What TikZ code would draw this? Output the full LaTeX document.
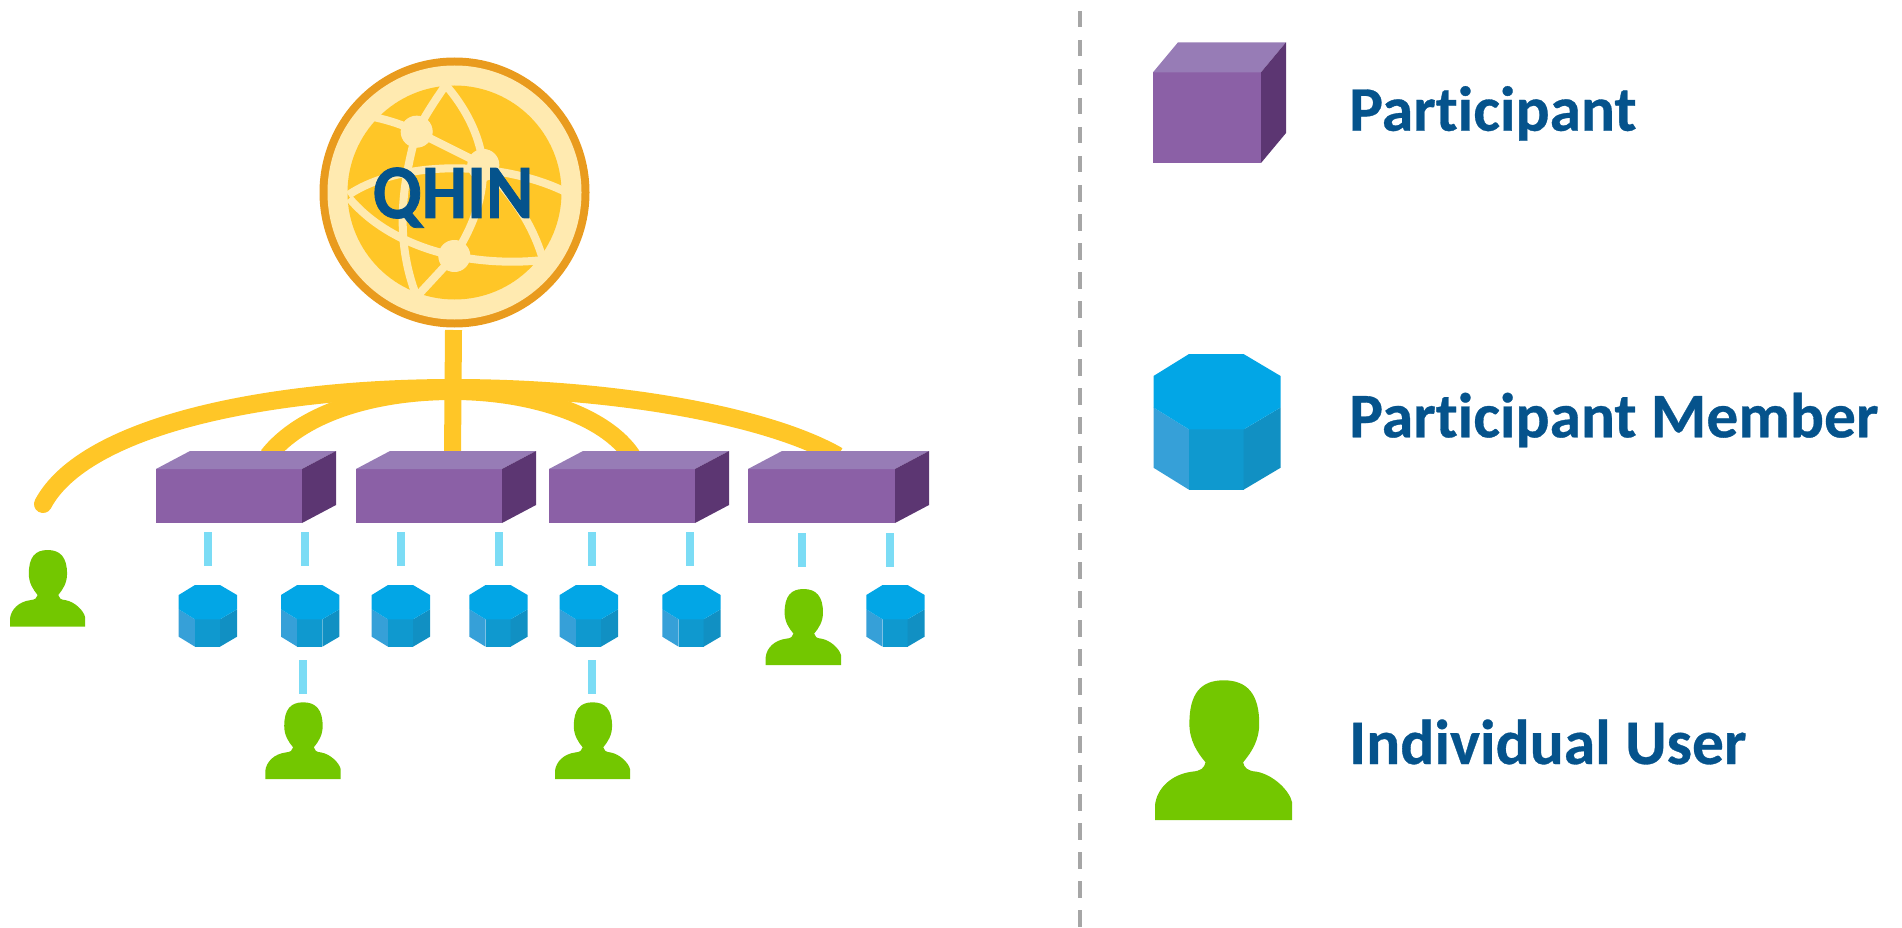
\documentclass[tikz,border=0pt]{standalone}
\usepackage{fontspec}
\setmainfont{Carlito}[Ligatures=NoCommon,BoldFeatures={FakeBold=0.5}]
\newfontfamily\qhinfont{Carlito}[Ligatures=NoCommon,BoldFeatures={FakeStretch=0.93,FakeBold=1}]
\definecolor{gold}{HTML}{FFC627}
\definecolor{ringo}{HTML}{E99B1E}
\definecolor{cream}{HTML}{FFEAB0}
\definecolor{boxfront}{HTML}{8B60A6}
\definecolor{boxtop}{HTML}{977CB6}
\definecolor{boxside}{HTML}{5C3672}
\definecolor{octtop}{HTML}{02A6E6}
\definecolor{octl}{HTML}{36A0D8}
\definecolor{octm}{HTML}{0F99CF}
\definecolor{octr}{HTML}{1190C3}
\definecolor{usergreen}{HTML}{73C700}
\definecolor{linkblue}{HTML}{7BDCF5}
\definecolor{inkblue}{HTML}{05538C}
\definecolor{rulegray}{HTML}{A6A6A6}
\tikzset{
  trunk/.style={draw=gold,line width=#1,line cap=butt},
  linkdash/.style={draw=linkblue,line width=8pt},
  meridian/.style={draw=cream,line width=8pt},
  hub/.style={circle,fill=cream,minimum size=32pt,inner sep=0pt},
  legendtext/.style={anchor=base west,inner sep=0pt,text=inkblue,font=\fontsize{63.5}{63.5}\selectfont\bfseries},
}
% x, y of front top-left, front w, front h, depth x, depth y
\newcommand\purplebox[6]{%
  \fill[boxfront] (#1,#2) rectangle ++(#3,#4);
  \fill[boxtop] (#1,#2) -- ++(#5,-#6) -- ++(#3,0) -- ++(-#5,#6) -- cycle;
  \fill[boxside] ({#1+#3},#2) -- ++(#5,-#6) -- ++(0,#4) -- ++(-#5,#6) -- cycle;
}
% x, y of top-left, size factor in x and y (1 = small icon)
\newcommand\octagon[4]{%
  \begin{scope}[shift={(#1,#2)},xscale=#3,yscale=#4]
    \fill[octl] (0,24.3) -- (16.3,34.3) -- (16.3,61.7) -- (0,51.7) -- cycle;
    \fill[octm] (16.3,34.3) -- (41.3,34.3) -- (41.3,61.7) -- (16.3,61.7) -- cycle;
    \fill[octr] (41.3,34.3) -- (58.3,24.3) -- (58.3,51.7) -- (41.3,61.7) -- cycle;
    \fill[octtop] (16.3,0) -- (41.3,0) -- (58.3,10) -- (58.3,24.3) -- (41.3,34.3) -- (16.3,34.3) -- (0,24.3) -- (0,10) -- cycle;
  \end{scope}
}
% x, y of top-left, width, height
\newcommand\person[4]{%
  \begin{scope}[shift={(#1,#2)},xscale=#3/255,yscale=#4/419]
    \fill[usergreen] (128,0) .. controls (85,0) and (64,40) .. (64,130)
      .. controls (64,180) and (78,215) .. (94,246)
      .. controls (92,262) and (86,272) .. (69,274)
      .. controls (30,282) and (3,325) .. (0,375)
      -- (0,419) -- (255,419) -- (255,365)
      .. controls (250,330) and (220,283) .. (189,274)
      .. controls (172,272) and (166,262) .. (164,246)
      .. controls (180,215) and (194,180) .. (194,130)
      .. controls (194,40) and (171,0) .. (128,0) -- cycle;
  \end{scope}
}
\begin{document}
\begin{tikzpicture}[x=1pt,y=-1pt]
\useasboundingbox (0,0) rectangle (1902,928);
% dashed divider
\coordinate (ruleTop) at (1079.5,11);
\coordinate (ruleBot) at (1079.5,928);
\draw[rulegray,line width=4pt,dash pattern=on 16.5pt off 12.5pt] (ruleTop) -- (ruleBot);

% trunk lines
\coordinate (stemTop) at (453.5,330);
\coordinate (stemBot) at (452.5,455);
\coordinate (userEnd) at (43,504);
\coordinate (hubMid) at (453,388);
\coordinate (innerMid) at (453,391);
\coordinate (p1in) at (268,456);
\coordinate (p3in) at (632,456);
\coordinate (p4in) at (838,456);
\draw[trunk=18pt,line cap=round] (userEnd) .. controls (85,425) and (270,388) .. (hubMid);
\draw[trunk=18pt] (hubMid) .. controls (620,388) and (770,417) .. (p4in);
\draw[trunk=18pt] (p1in) .. controls (300,415) and (370,391) .. (innerMid);
\draw[trunk=18pt] (innerMid) .. controls (530,391) and (605,415) .. (p3in);
\draw[trunk=17pt] (stemTop) -- (stemBot);

% globe
\fill[ringo] (454.5,192.5) circle[radius=135];
\fill[cream] (454.5,192.5) circle[radius=127];
\fill[gold] (454.5,192.5) circle[radius=107];
\begin{scope}[shift={(300,30)},scale=1/3]
  \node[hub] (hA) at (350,305) {};
  \node[hub] (hB) at (550,405) {};
  \node[hub] (hC) at (463,678) {};
  \coordinate (apex) at (437,165);
  \coordinate (gL) at (225,262);
  \coordinate (gS) at (350,800);
  \coordinate (eqL) at (145,495);
  \coordinate (eqR) at (795,485);
  \coordinate (gR) at (728,685);
  \coordinate (gLL) at (148,505);
  \coordinate (gRR) at (730,690);
  \draw[meridian] (apex) .. controls (410,205) and (385,240) .. (hA.center);
  \draw[meridian] (hA.center) .. controls (310,285) and (270,272) .. (gL);
  \draw[meridian] (hA.center) -- (hB.center);
  \draw[meridian] (hA.center) .. controls (310,450) and (280,620) .. (gS);
  \draw[meridian] (apex) .. controls (510,250) and (540,330) .. (hB.center);
  \draw[meridian] (hB.center) .. controls (550,500) and (525,580) .. (hC.center);
  \draw[meridian] (eqL) .. controls (300,390) and (600,390) .. (eqR);
  \draw[meridian] (hB.center) .. controls (620,480) and (690,560) .. (gR);
  \draw[meridian] (gLL) .. controls (220,590) and (330,650) .. (hC.center);
  \draw[meridian] (hC.center) .. controls (550,695) and (640,700) .. (gRR);
  \draw[meridian] (hC.center) -- (gS);
  \fill[cream] (350,305) circle[radius=47];
  \fill[cream] (550,405) circle[radius=47];
  \fill[cream] (463,678) circle[radius=47];
\end{scope}
\node[anchor=base,inner sep=0pt,text=inkblue,font=\qhinfont\fontsize{77}{77}\selectfont\bfseries] (qhin) at (453,218) {QHIN};

% participants
\purplebox{156}{469}{146}{54}{34}{18}
\purplebox{356}{469}{146}{54}{34}{18}
\purplebox{549}{469}{146}{54}{34}{18}
\purplebox{748}{469}{147}{54}{34}{18}

% members
\octagon{178.7}{585}{1}{1}
\octagon{281}{585}{1}{1}
\octagon{371.7}{585}{1}{1}
\octagon{469.3}{585}{1}{1}
\octagon{559.7}{585}{1}{1}
\octagon{662.3}{585}{1}{1}
\octagon{866.3}{585}{1}{1}

% users
\person{10}{550}{75}{76.7}
\person{265.3}{702.3}{75.4}{76.7}
\person{555}{702.3}{75}{76.7}
\person{765.7}{589}{75.3}{76}

% links
\foreach \n/\x in {a/207.7,b/305.3,c/401,d/499,e/592,f/690}{
  \coordinate (\n1) at (\x,532);
  \coordinate (\n2) at (\x,565.7);
  \draw[linkdash] (\n1) -- (\n2);
}
\foreach \n/\x in {g/802,h/890}{
  \coordinate (\n1) at (\x,533);
  \coordinate (\n2) at (\x,567);
  \draw[linkdash] (\n1) -- (\n2);
}
\foreach \n/\x in {i/303,j/592}{
  \coordinate (\n1) at (\x,660);
  \coordinate (\n2) at (\x,693.7);
  \draw[linkdash] (\n1) -- (\n2);
}

% legend
\purplebox{1153}{72.3}{108}{90.7}{25}{30}
\octagon{1153.5}{354}{2.18}{2.2}
\person{1155}{680.3}{137}{139.7}
\node[legendtext] (lp) at (1349,130.7) {Participant};
\node[legendtext] (lm) at (1349,437.3) {Participant Member};
\node[legendtext] (lu) at (1349,764) {Individual User};
\end{tikzpicture}
\end{document}
